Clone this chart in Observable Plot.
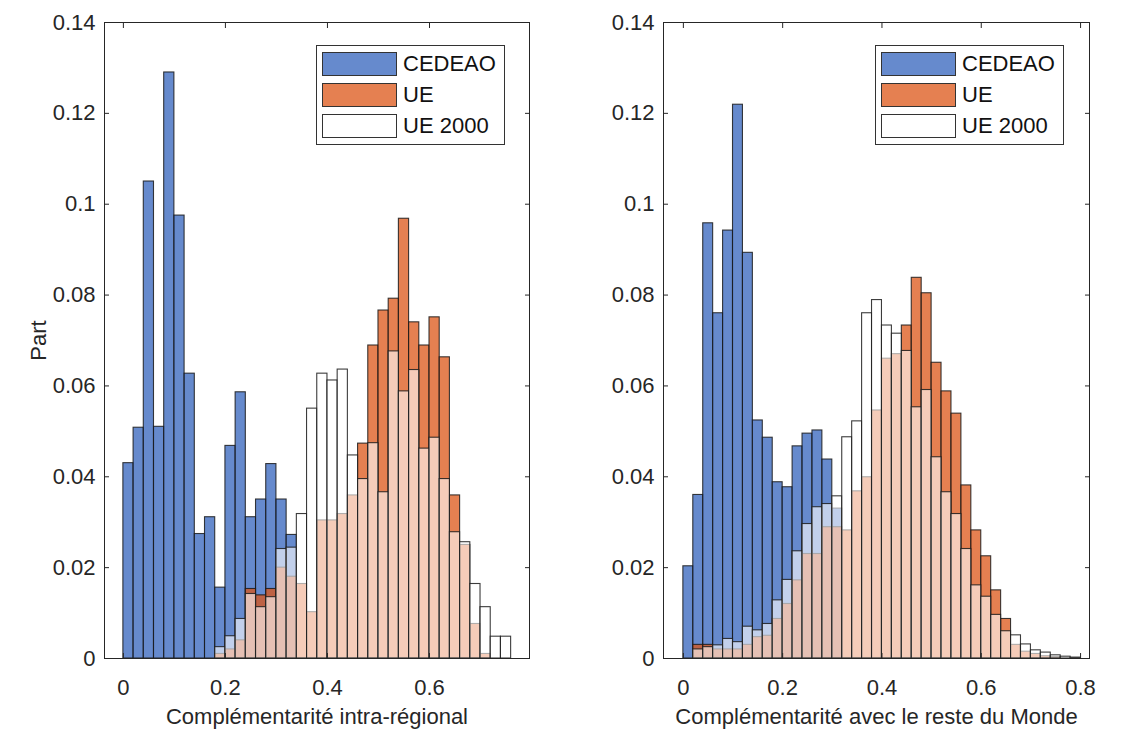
<!DOCTYPE html>
<html>
<head>
<meta charset="utf-8">
<script src="https://cdn.jsdelivr.net/npm/d3@7"></script>
<script src="https://cdn.jsdelivr.net/npm/@observablehq/plot@0.6"></script>
<style>
  body { margin: 0; background: #fff; }
  #wrap { position: relative; width: 1127px; height: 733px; font-family: "Liberation Sans", Arial, sans-serif; color: #262626; }
  .panel { position: absolute; top: 0; }
  .legend { position: absolute; border: 1px solid #333; background: #fff; box-sizing: border-box; }
  .row { position: absolute; left: 5px; height: 24px; display: flex; align-items: center; }
  .sw { width: 75px; height: 24px; box-sizing: border-box; border: 1.5px solid #333; }
  .lab { margin-left: 6px; font-size: 22px; line-height: 24px; color: #111; }
</style>
</head>
<body>
<div id="wrap"></div>
<script>
// ---------- data (bin width 0.02, bins start at 0) ----------
const binWidth = 0.02;
const seriesNames = ["CEDEAO", "UE", "UE 2000"];

// Left panel: Complémentarité intra-régional
const leftCEDEAO = [0.043, 0.0508, 0.105, 0.051, 0.129, 0.0975, 0.0627, 0.0274, 0.0311, 0.0156,
  0.0468, 0.0586, 0.0311, 0.035, 0.0428, 0.035, 0.0272];
const leftUE = [0, 0, 0, 0, 0, 0, 0, 0, 0, 0.001,
  0.002, 0.004, 0.0153, 0.0139, 0.0153, 0.020, 0.018, 0.0164, 0.0102, 0.0304,
  0.0304, 0.0318, 0.0359, 0.0473, 0.0689, 0.0766, 0.0792, 0.0968, 0.074, 0.0689,
  0.0751, 0.0663, 0.0359, 0.025, 0.0076, 0.001, 0, 0];
const leftUE2000 = [0, 0, 0, 0, 0, 0, 0, 0, 0, 0.0025,
  0.0049, 0.0087, 0.0142, 0.0113, 0.0135, 0.0241, 0.0244, 0.0318, 0.055, 0.0627,
  0.0612, 0.0636, 0.0447, 0.0395, 0.0474, 0.0366, 0.0676, 0.0588, 0.0635, 0.0462,
  0.0486, 0.0395, 0.0278, 0.0256, 0.0164, 0.0113, 0.0048, 0.0048];

// Right panel: Complémentarité avec le reste du Monde
const rightCEDEAO = [0.0203, 0.036, 0.0958, 0.076, 0.0942, 0.1219, 0.0893, 0.0524, 0.0486, 0.0388,
  0.0377, 0.0467, 0.0495, 0.0502, 0.0438, 0.033];
const rightUE = [0, 0.003, 0.003, 0.002, 0.002, 0.002, 0.003, 0.0047, 0.005, 0.0087,
  0.012, 0.0172, 0.023, 0.023, 0.0289, 0.0289, 0.0282, 0.0368, 0.0399, 0.0546,
  0.066, 0.067, 0.0733, 0.0838, 0.0804, 0.0651, 0.0588, 0.0539, 0.0381, 0.0282,
  0.0225, 0.015, 0.0087, 0.003, 0.0015, 0.001, 0.0005, 0.0003, 0, 0];
const rightUE2000 = [0, 0.002, 0.0025, 0.0029, 0.0043, 0.0036, 0.007, 0.0062, 0.0076, 0.0128,
  0.0173, 0.0236, 0.0296, 0.0333, 0.034, 0.0357, 0.0487, 0.0522, 0.076, 0.0789,
  0.0733, 0.0715, 0.0677, 0.0553, 0.0591, 0.0443, 0.0366, 0.0318, 0.0241, 0.0161,
  0.0136, 0.0096, 0.006, 0.0051, 0.0031, 0.0018, 0.0013, 0.0007, 0.0004, 0.0002];

const yTicks = [0, 0.02, 0.04, 0.06, 0.08, 0.1, 0.12, 0.14];
const xTicksLeft = [0, 0.2, 0.4, 0.6];
const xTicksRight = [0, 0.2, 0.4, 0.6, 0.8];
const xLabels = ["Complémentarité intra-régional", "Complémentarité avec le reste du Monde"];
const yLabel = "Part";

// ---------- styles ----------
const fills = {"CEDEAO": "#2558b8", "UE": "#dc5414", "UE 2000": "#ffffff"};
const opac = {"CEDEAO": 0.7, "UE": 0.74, "UE 2000": 0.6};
const fmt = d => String(+d.toFixed(2));

function toBins(values, series) {
  return values.map((v, i) => ({series, x1: i * binWidth, x2: (i + 1) * binWidth, v})).filter(d => d.v > 0);
}

function panel({sets, xDomain, xTicks, xLabel, withYLabel, width, mL, mR}) {
  const marks = [];
  sets.forEach((vals, i) => {
    const name = seriesNames[i];
    marks.push(Plot.rect(toBins(vals, name), {
      x1: "x1", x2: "x2", y1: 0, y2: "v",
      fill: fills[name], fillOpacity: opac[name],
      stroke: "#1a1a1a", strokeWidth: 1.1, strokeOpacity: 0.85
    }));
  });
  marks.push(Plot.frame({stroke: "#262626", strokeWidth: 1}));
  marks.push(Plot.axisY(yTicks, {anchor: "left", tickSize: 5, insetLeft: 5, tickPadding: 9, tickFormat: fmt, label: null}));
  marks.push(Plot.axisY(yTicks, {anchor: "right", tickSize: 5, insetRight: 5, tickFormat: () => "", label: null}));
  marks.push(Plot.axisX(xTicks, {anchor: "bottom", tickSize: 5, insetBottom: 5, tickPadding: 21, tickFormat: fmt, label: null}));
  marks.push(Plot.axisX(xTicks, {anchor: "top", tickSize: 5, insetTop: 5, tickFormat: () => "", label: null}));
  marks.push(Plot.text([xLabel], {frameAnchor: "bottom", dy: 58, text: d => d, textAnchor: "middle", lineAnchor: "middle", fontSize: 22}));
  if (withYLabel) {
    marks.push(Plot.text([yLabel], {frameAnchor: "left", dx: -66, rotate: -90, text: d => d, textAnchor: "middle", lineAnchor: "middle", fontSize: 22}));
  }
  return Plot.plot({
    width, height: 733,
    marginLeft: mL, marginRight: mR, marginTop: 22, marginBottom: 75,
    x: {domain: xDomain},
    y: {domain: [0, 0.14]},
    style: {fontFamily: "'Liberation Sans', Arial, sans-serif", fontSize: "22px", color: "#262626", background: "transparent", overflow: "visible"},
    marks
  });
}

const wrap = document.getElementById("wrap");

const left = panel({sets: [leftCEDEAO, leftUE, leftUE2000], xDomain: [-0.037, 0.796], xTicks: xTicksLeft,
  xLabel: xLabels[0], withYLabel: true, width: 563, mL: 104, mR: 34});
left.classList.add("panel"); left.style.left = "0px";
wrap.appendChild(left);

const right = panel({sets: [rightCEDEAO, rightUE, rightUE2000], xDomain: [-0.04, 0.818], xTicks: xTicksRight,
  xLabel: xLabels[1], withYLabel: false, width: 564, mL: 100, mR: 38});
right.classList.add("panel"); right.style.left = "563px";
wrap.appendChild(right);

function legend(leftPx) {
  const box = document.createElement("div");
  box.className = "legend";
  Object.assign(box.style, {left: leftPx + "px", top: "45px", width: "189px", height: "100px"});
  seriesNames.forEach((name, i) => {
    const row = document.createElement("div");
    row.className = "row";
    row.style.top = (6 + i * 31) + "px";
    const sw = document.createElement("div");
    sw.className = "sw";
    const c = d3.color(fills[name]); const a = opac[name];
    sw.style.background = `rgb(${Math.round(c.r*a+255*(1-a))},${Math.round(c.g*a+255*(1-a))},${Math.round(c.b*a+255*(1-a))})`;
    const lab = document.createElement("span");
    lab.className = "lab";
    lab.textContent = name;
    row.appendChild(sw); row.appendChild(lab);
    box.appendChild(row);
  });
  wrap.appendChild(box);
}
legend(316);
legend(875);
</script>
</body>
</html>
